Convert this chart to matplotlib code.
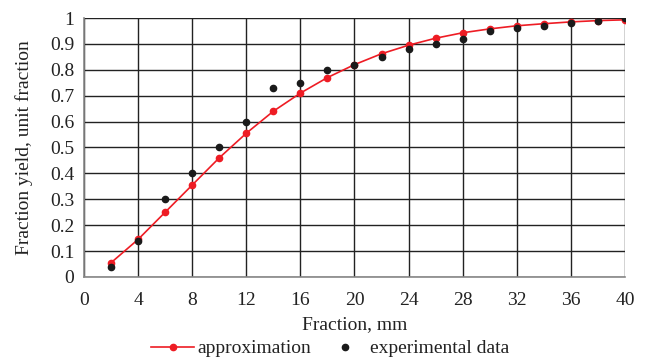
import matplotlib
matplotlib.use("Agg")
import matplotlib.pyplot as plt

fraction_mm = [2, 4, 6, 8, 10, 12, 14, 16, 18, 20, 22, 24, 26, 28, 30, 32, 34, 36, 38, 40]
approximation = [0.055, 0.145, 0.25, 0.355, 0.46, 0.555, 0.64, 0.71, 0.77, 0.82,
                 0.862, 0.895, 0.922, 0.943, 0.958, 0.970, 0.978, 0.985, 0.990, 0.993]
experimental = [0.04, 0.14, 0.30, 0.40, 0.50, 0.60, 0.73, 0.75, 0.80, 0.82,
                0.85, 0.88, 0.90, 0.92, 0.95, 0.96, 0.97, 0.98, 0.99, 1.0]
x_ticks = list(range(0, 41, 4))
y_ticks = [i / 10 for i in range(11)]
y_labels = ["0"] + [f"{v:.1f}" for v in y_ticks[1:-1]] + ["1"]

plt.rcParams["font.family"] = ["Liberation Serif", "DejaVu Serif"]
plt.rcParams["font.size"] = 14

fig = plt.figure(figsize=(6.48, 3.58), dpi=100)
ax = fig.add_axes([0.1296, 0.2263, 0.8349, 0.7234])

ax.plot(fraction_mm, approximation, color="#ee1c24", lw=1.2, marker="o", ms=4.5,
        label="approximation", zorder=3)
ax.plot(fraction_mm, experimental, ls="none", color="#1a1a1a", marker="o", ms=4.5,
        label="experimental data", zorder=4)

ax.set_xlim(0, 40)
ax.set_ylim(0, 1)
ax.set_xticks(x_ticks)
ax.set_yticks(y_ticks)
ax.set_yticklabels(y_labels)
ax.grid(True, color="#222222", lw=1.0)
ax.set_axisbelow(True)
ax.tick_params(length=0, colors="#222222")
ax.tick_params(axis="x", pad=11)
ax.tick_params(axis="y", pad=7)
for side in ["top", "right"]:
    ax.spines[side].set_visible(False)
for side in ["left", "bottom"]:
    ax.spines[side].set_color("#888888")
    ax.spines[side].set_linewidth(1.2)

ax.set_xlabel("Fraction, mm", labelpad=5, color="#222222")
ax.set_ylabel("Fraction yield, unit fraction", labelpad=12, color="#222222")

ax.legend(loc="upper center", bbox_to_anchor=(0.455, -0.205), ncol=2, frameon=False,
          handlelength=2.2, handletextpad=0.2, columnspacing=0.6, borderpad=0,
          labelcolor="#222222")

fig.savefig("out.png", dpi=100)
